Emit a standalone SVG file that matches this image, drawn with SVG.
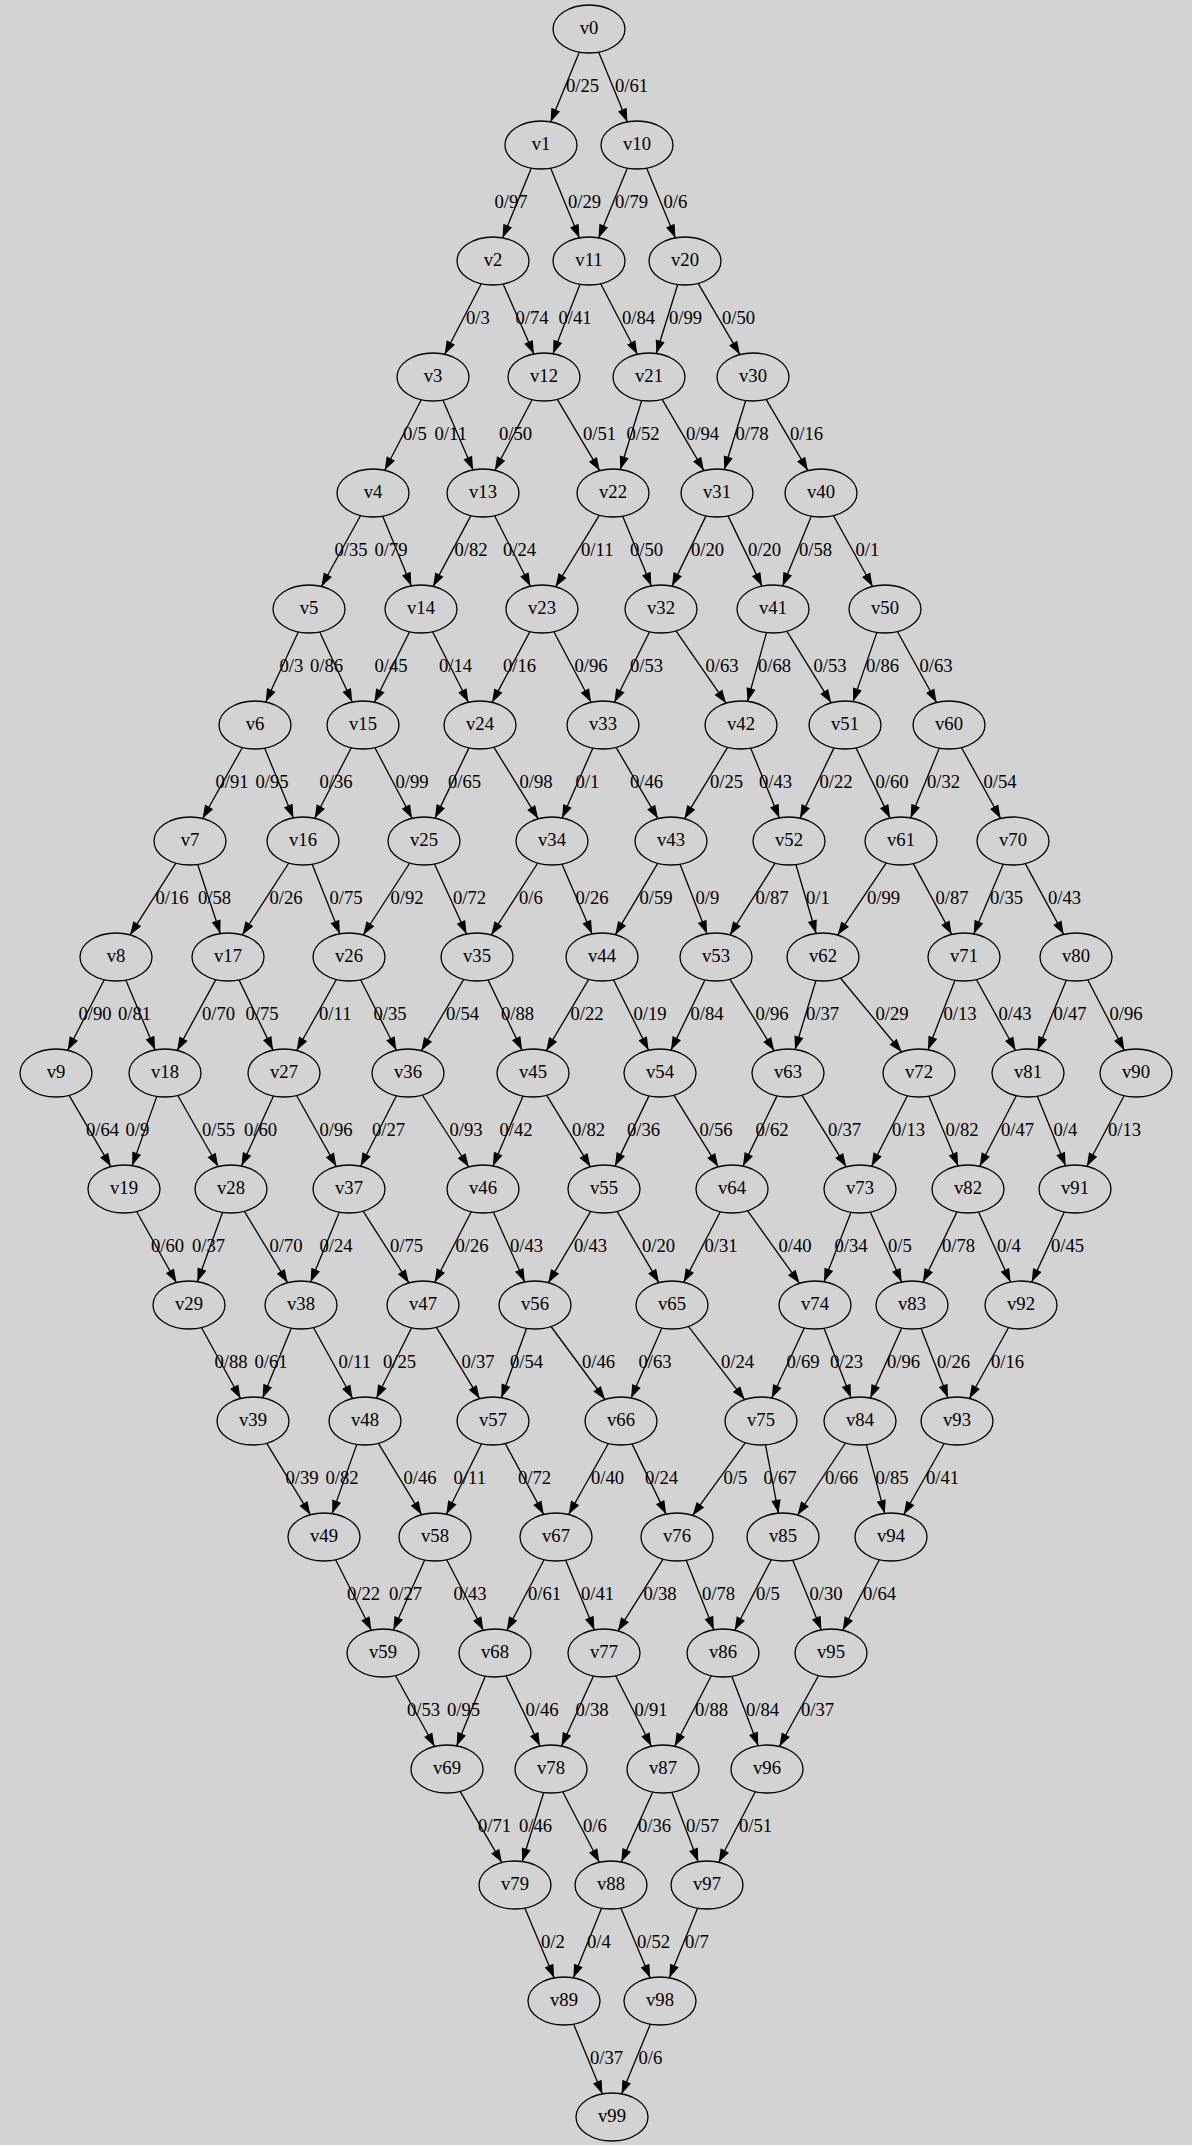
<svg xmlns="http://www.w3.org/2000/svg" width="1193" height="2147" viewBox="0 0 1193 2147">
<style>
.edge path{fill:none;stroke:#000;stroke-width:1.3;marker-end:url(#ah)}
text{font-family:"Liberation Serif","Times New Roman",serif;font-size:18.67px;fill:#000}
.node ellipse{fill:#d3d3d3;stroke:#000;stroke-width:1.3}
.node text{text-anchor:middle}
</style>
<defs>
<marker id="ah" markerUnits="userSpaceOnUse" markerWidth="14" markerHeight="10" refX="13.3" refY="4.67" orient="auto" overflow="visible"><path d="M0,0 L13.3,4.67 L0,9.33 Z" fill="#000"/></marker>
</defs>
<rect x="0" y="0" width="1193" height="2147" fill="#fff"/>
<rect x="0" y="0" width="1192" height="2145" fill="#d3d3d3"/>
<g id="edges">
<g class="edge"><path d="M579.4,52.1L550.6,121.9"/><text x="566" y="92">0/25</text></g>
<g class="edge"><path d="M598.6,52.1L627.4,121.9"/><text x="615" y="92">0/61</text></g>
<g class="edge"><path d="M531.4,168.1L502.6,237.9"/><text x="494.5" y="208">0/97</text></g>
<g class="edge"><path d="M550.6,168.1L579.4,237.9"/><text x="568" y="208">0/29</text></g>
<g class="edge"><path d="M627.4,168.1L598.6,237.9"/><text x="615" y="208">0/79</text></g>
<g class="edge"><path d="M646.6,168.1L675.4,237.9"/><text x="663.5" y="208">0/6</text></g>
<g class="edge"><path d="M481.3,283.7L444.7,354.3"/><text x="466" y="324">0/3</text></g>
<g class="edge"><path d="M503.1,284L533.9,354"/><text x="515.5" y="324">0/74</text></g>
<g class="edge"><path d="M580,284.2L553,353.8"/><text x="558.5" y="324">0/41</text></g>
<g class="edge"><path d="M600.7,283.7L637.3,354.3"/><text x="622" y="324">0/84</text></g>
<g class="edge"><path d="M677.7,284.5L656.3,353.5"/><text x="669" y="324">0/99</text></g>
<g class="edge"><path d="M698.1,283.4L739.9,354.6"/><text x="722" y="324">0/50</text></g>
<g class="edge"><path d="M421.3,399.7L384.7,470.3"/><text x="403" y="440">0/5</text></g>
<g class="edge"><path d="M442.9,400.1L473.1,469.9"/><text x="434.5" y="440">0/11</text></g>
<g class="edge"><path d="M532.1,399.7L494.9,470.3"/><text x="499" y="440">0/50</text></g>
<g class="edge"><path d="M557.3,399.3L599.7,470.7"/><text x="583" y="440">0/51</text></g>
<g class="edge"><path d="M641.7,400.5L620.3,469.5"/><text x="626.5" y="440">0/52</text></g>
<g class="edge"><path d="M662.1,399.4L703.9,470.6"/><text x="686" y="440">0/94</text></g>
<g class="edge"><path d="M745.7,400.5L724.3,469.5"/><text x="735.5" y="440">0/78</text></g>
<g class="edge"><path d="M766.1,399.4L807.9,470.6"/><text x="790" y="440">0/16</text></g>
<g class="edge"><path d="M360.6,515.5L321.4,586.5"/><text x="334.5" y="556">0/35</text></g>
<g class="edge"><path d="M382.6,516.1L411.4,585.9"/><text x="374.5" y="556">0/79</text></g>
<g class="edge"><path d="M470.9,515.6L433.1,586.4"/><text x="454.5" y="556">0/82</text></g>
<g class="edge"><path d="M494.6,515.7L530.4,586.3"/><text x="503" y="556">0/24</text></g>
<g class="edge"><path d="M599.4,515.2L555.6,586.8"/><text x="581" y="556">0/11</text></g>
<g class="edge"><path d="M622.6,516.1L651.4,585.9"/><text x="630" y="556">0/50</text></g>
<g class="edge"><path d="M706,515.9L672,586.1"/><text x="691" y="556">0/20</text></g>
<g class="edge"><path d="M728,515.9L762,586.1"/><text x="748" y="556">0/20</text></g>
<g class="edge"><path d="M811.4,516.1L782.6,585.9"/><text x="799" y="556">0/58</text></g>
<g class="edge"><path d="M833.4,515.5L872.6,586.5"/><text x="855.5" y="556">0/1</text></g>
<g class="edge"><path d="M298.3,631.9L265.7,702.1"/><text x="279.5" y="672">0/3</text></g>
<g class="edge"><path d="M319.7,631.9L352.3,702.1"/><text x="310" y="672">0/86</text></g>
<g class="edge"><path d="M409.6,631.8L374.4,702.2"/><text x="374.5" y="672">0/45</text></g>
<g class="edge"><path d="M432.6,631.7L468.4,702.3"/><text x="439" y="672">0/14</text></g>
<g class="edge"><path d="M529.9,631.6L492.1,702.4"/><text x="503" y="672">0/16</text></g>
<g class="edge"><path d="M553.9,631.7L591.1,702.3"/><text x="574.5" y="672">0/96</text></g>
<g class="edge"><path d="M649.6,631.8L614.4,702.2"/><text x="630" y="672">0/53</text></g>
<g class="edge"><path d="M676,630.8L726,703.2"/><text x="705.5" y="672">0/63</text></g>
<g class="edge"><path d="M766.5,632.6L747.5,701.4"/><text x="758" y="672">0/68</text></g>
<g class="edge"><path d="M786.8,631.2L831.2,702.8"/><text x="813.5" y="672">0/53</text></g>
<g class="edge"><path d="M876.9,632.4L853.1,701.6"/><text x="866" y="672">0/86</text></g>
<g class="edge"><path d="M897.4,631.5L936.6,702.5"/><text x="919.5" y="672">0/63</text></g>
<g class="edge"><path d="M242.4,747.5L202.6,818.5"/><text x="215.5" y="788">0/91</text></g>
<g class="edge"><path d="M264.6,748.1L293.4,817.9"/><text x="255.5" y="788">0/95</text></g>
<g class="edge"><path d="M351.3,747.7L314.7,818.3"/><text x="319.5" y="788">0/36</text></g>
<g class="edge"><path d="M374.9,747.7L412.1,818.3"/><text x="395.5" y="788">0/99</text></g>
<g class="edge"><path d="M469,747.9L435,818.1"/><text x="448" y="788">0/65</text></g>
<g class="edge"><path d="M493.8,747.2L538.2,818.8"/><text x="519.5" y="788">0/98</text></g>
<g class="edge"><path d="M592.9,748L562.1,818"/><text x="575.5" y="788">0/1</text></g>
<g class="edge"><path d="M616.1,747.4L657.9,818.6"/><text x="630" y="788">0/46</text></g>
<g class="edge"><path d="M727.6,747.3L684.4,818.7"/><text x="710" y="788">0/25</text></g>
<g class="edge"><path d="M750.6,748.1L779.4,817.9"/><text x="759" y="788">0/43</text></g>
<g class="edge"><path d="M834,747.9L800,818.1"/><text x="819.5" y="788">0/22</text></g>
<g class="edge"><path d="M856,747.9L890,818.1"/><text x="875.5" y="788">0/60</text></g>
<g class="edge"><path d="M939.4,748.1L910.6,817.9"/><text x="927" y="788">0/32</text></g>
<g class="edge"><path d="M961.4,747.5L1000.6,818.5"/><text x="983.5" y="788">0/54</text></g>
<g class="edge"><path d="M175.9,863.1L130.1,934.9"/><text x="155.5" y="904">0/16</text></g>
<g class="edge"><path d="M197.7,864.5L220.3,933.5"/><text x="198" y="904">0/58</text></g>
<g class="edge"><path d="M288.8,863L242.2,935"/><text x="269.5" y="904">0/26</text></g>
<g class="edge"><path d="M312.2,864.2L339.8,933.8"/><text x="329.5" y="904">0/75</text></g>
<g class="edge"><path d="M409.8,863L363.2,935"/><text x="390.5" y="904">0/92</text></g>
<g class="edge"><path d="M434.5,864L466.5,934"/><text x="453" y="904">0/72</text></g>
<g class="edge"><path d="M537.8,863L491.2,935"/><text x="519" y="904">0/6</text></g>
<g class="edge"><path d="M561.9,864.1L592.1,933.9"/><text x="575.5" y="904">0/26</text></g>
<g class="edge"><path d="M657.7,863.3L615.3,934.7"/><text x="639.5" y="904">0/59</text></g>
<g class="edge"><path d="M680,864.2L707,933.8"/><text x="695.5" y="904">0/9</text></g>
<g class="edge"><path d="M775.1,863.1L729.9,934.9"/><text x="755.5" y="904">0/87</text></g>
<g class="edge"><path d="M795.9,864.5L816.1,933.5"/><text x="806" y="904">0/1</text></g>
<g class="edge"><path d="M886.3,862.9L837.7,935.1"/><text x="867" y="904">0/99</text></g>
<g class="edge"><path d="M913.3,863.6L951.7,934.4"/><text x="935.5" y="904">0/87</text></g>
<g class="edge"><path d="M1003.3,864.1L973.7,933.9"/><text x="990" y="904">0/35</text></g>
<g class="edge"><path d="M1025.3,863.6L1063.7,934.4"/><text x="1048" y="904">0/43</text></g>
<g class="edge"><path d="M104.3,979.7L67.7,1050.3"/><text x="78.5" y="1020">0/90</text></g>
<g class="edge"><path d="M125.8,980.1L155.2,1049.9"/><text x="118" y="1020">0/81</text></g>
<g class="edge"><path d="M215.8,979.6L177.2,1050.4"/><text x="202" y="1020">0/70</text></g>
<g class="edge"><path d="M239,979.9L273,1050.1"/><text x="245.5" y="1020">0/75</text></g>
<g class="edge"><path d="M336.4,979.5L296.6,1050.5"/><text x="319" y="1020">0/11</text></g>
<g class="edge"><path d="M360.6,979.7L396.4,1050.3"/><text x="373.5" y="1020">0/35</text></g>
<g class="edge"><path d="M463.7,979.3L421.3,1050.7"/><text x="446" y="1020">0/54</text></g>
<g class="edge"><path d="M488,979.9L522,1050.1"/><text x="501" y="1020">0/88</text></g>
<g class="edge"><path d="M588.7,979.3L546.3,1050.7"/><text x="570.5" y="1020">0/22</text></g>
<g class="edge"><path d="M613.4,979.8L648.6,1050.2"/><text x="633.5" y="1020">0/19</text></g>
<g class="edge"><path d="M705,979.9L671,1050.1"/><text x="690.5" y="1020">0/84</text></g>
<g class="edge"><path d="M729.8,979.2L774.2,1050.8"/><text x="755.5" y="1020">0/96</text></g>
<g class="edge"><path d="M815.9,980.5L795.1,1049.5"/><text x="806" y="1020">0/37</text></g>
<g class="edge"><path d="M840.4,978L901.6,1052"/><text x="875.5" y="1020">0/29</text></g>
<g class="edge"><path d="M955,980.2L928,1049.8"/><text x="943.5" y="1020">0/13</text></g>
<g class="edge"><path d="M976.4,979.5L1015.6,1050.5"/><text x="998.5" y="1020">0/43</text></g>
<g class="edge"><path d="M1066.4,980.1L1037.6,1049.9"/><text x="1053.5" y="1020">0/47</text></g>
<g class="edge"><path d="M1087.7,979.7L1124.3,1050.3"/><text x="1109.5" y="1020">0/96</text></g>
<g class="edge"><path d="M69.1,1095.4L110.9,1166.6"/><text x="86" y="1136">0/64</text></g>
<g class="edge"><path d="M156.8,1096.4L132.2,1165.6"/><text x="125.5" y="1136">0/9</text></g>
<g class="edge"><path d="M177.8,1095.5L218.2,1166.5"/><text x="202" y="1136">0/55</text></g>
<g class="edge"><path d="M273.5,1096L241.5,1166"/><text x="244" y="1136">0/60</text></g>
<g class="edge"><path d="M296.6,1095.5L336.4,1166.5"/><text x="319.5" y="1136">0/96</text></g>
<g class="edge"><path d="M396.4,1095.7L360.6,1166.3"/><text x="372" y="1136">0/27</text></g>
<g class="edge"><path d="M422.2,1095L468.8,1167"/><text x="449.5" y="1136">0/93</text></g>
<g class="edge"><path d="M523.1,1096.1L492.9,1165.9"/><text x="499.5" y="1136">0/42</text></g>
<g class="edge"><path d="M546.6,1095.2L590.4,1166.8"/><text x="572" y="1136">0/82</text></g>
<g class="edge"><path d="M649,1095.9L615,1166.1"/><text x="627" y="1136">0/36</text></g>
<g class="edge"><path d="M673.8,1095.2L718.2,1166.8"/><text x="699.5" y="1136">0/56</text></g>
<g class="edge"><path d="M777,1095.9L743,1166.1"/><text x="755.5" y="1136">0/62</text></g>
<g class="edge"><path d="M801.8,1095.2L846.2,1166.8"/><text x="828" y="1136">0/37</text></g>
<g class="edge"><path d="M907.4,1095.7L871.6,1166.3"/><text x="892" y="1136">0/13</text></g>
<g class="edge"><path d="M928.8,1096.1L958.2,1165.9"/><text x="945.5" y="1136">0/82</text></g>
<g class="edge"><path d="M1016.3,1095.7L979.7,1166.3"/><text x="1001" y="1136">0/47</text></g>
<g class="edge"><path d="M1037.4,1096.2L1065.6,1165.8"/><text x="1053.5" y="1136">0/4</text></g>
<g class="edge"><path d="M1124.1,1095.7L1086.9,1166.3"/><text x="1108" y="1136">0/13</text></g>
<g class="edge"><path d="M136.6,1211.5L176.4,1282.5"/><text x="151" y="1252">0/60</text></g>
<g class="edge"><path d="M222.6,1212.3L197.4,1281.7"/><text x="192" y="1252">0/37</text></g>
<g class="edge"><path d="M244.4,1211.3L287.6,1282.7"/><text x="269.5" y="1252">0/70</text></g>
<g class="edge"><path d="M339.4,1212.1L310.6,1281.9"/><text x="319.5" y="1252">0/24</text></g>
<g class="edge"><path d="M363.1,1211.1L408.9,1282.9"/><text x="390" y="1252">0/75</text></g>
<g class="edge"><path d="M471.3,1211.7L434.7,1282.3"/><text x="455.5" y="1252">0/26</text></g>
<g class="edge"><path d="M493.3,1212L524.7,1282"/><text x="510" y="1252">0/43</text></g>
<g class="edge"><path d="M590.7,1211.3L548.3,1282.7"/><text x="574" y="1252">0/43</text></g>
<g class="edge"><path d="M617.1,1211.4L658.9,1282.6"/><text x="642" y="1252">0/20</text></g>
<g class="edge"><path d="M720.3,1211.7L683.7,1282.3"/><text x="704.5" y="1252">0/31</text></g>
<g class="edge"><path d="M747.5,1210.7L799.5,1283.3"/><text x="778.5" y="1252">0/40</text></g>
<g class="edge"><path d="M851,1212.2L824,1281.8"/><text x="834.5" y="1252">0/34</text></g>
<g class="edge"><path d="M870.3,1212L901.7,1282"/><text x="888" y="1252">0/5</text></g>
<g class="edge"><path d="M957,1211.9L923,1282.1"/><text x="942" y="1252">0/78</text></g>
<g class="edge"><path d="M978.5,1212L1010.5,1282"/><text x="997" y="1252">0/4</text></g>
<g class="edge"><path d="M1064.3,1211.9L1031.7,1282.1"/><text x="1051" y="1252">0/45</text></g>
<g class="edge"><path d="M201.4,1327.5L240.6,1398.5"/><text x="214.5" y="1368">0/88</text></g>
<g class="edge"><path d="M291.4,1328.1L262.6,1397.9"/><text x="254.5" y="1368">0/61</text></g>
<g class="edge"><path d="M313.4,1327.5L352.6,1398.5"/><text x="338.5" y="1368">0/11</text></g>
<g class="edge"><path d="M411.6,1327.8L376.4,1398.2"/><text x="383" y="1368">0/25</text></g>
<g class="edge"><path d="M436.4,1327.3L479.6,1398.7"/><text x="461.5" y="1368">0/37</text></g>
<g class="edge"><path d="M526.6,1328.3L501.4,1397.7"/><text x="510" y="1368">0/54</text></g>
<g class="edge"><path d="M551,1326.5L605,1399.5"/><text x="582" y="1368">0/46</text></g>
<g class="edge"><path d="M661.9,1328L631.1,1398"/><text x="638.5" y="1368">0/63</text></g>
<g class="edge"><path d="M688.4,1326.4L744.6,1399.6"/><text x="721" y="1368">0/24</text></g>
<g class="edge"><path d="M804.3,1327.9L771.7,1398.1"/><text x="786.5" y="1368">0/69</text></g>
<g class="edge"><path d="M824,1328.2L851,1397.8"/><text x="830" y="1368">0/23</text></g>
<g class="edge"><path d="M901.7,1328L870.3,1398"/><text x="887" y="1368">0/96</text></g>
<g class="edge"><path d="M921,1328.2L948,1397.8"/><text x="937" y="1368">0/26</text></g>
<g class="edge"><path d="M1008.6,1327.5L969.4,1398.5"/><text x="991" y="1368">0/16</text></g>
<g class="edge"><path d="M266.6,1443.2L310.4,1514.8"/><text x="285.5" y="1484">0/39</text></g>
<g class="edge"><path d="M356.8,1444.4L332.2,1513.6"/><text x="325.5" y="1484">0/82</text></g>
<g class="edge"><path d="M378.4,1443.3L421.6,1514.7"/><text x="403.5" y="1484">0/46</text></g>
<g class="edge"><path d="M481.6,1443.8L446.4,1514.2"/><text x="453.5" y="1484">0/11</text></g>
<g class="edge"><path d="M505.3,1443.6L543.7,1514.4"/><text x="518" y="1484">0/72</text></g>
<g class="edge"><path d="M608.4,1443.5L568.6,1514.5"/><text x="591" y="1484">0/40</text></g>
<g class="edge"><path d="M632,1443.9L666,1514.1"/><text x="645" y="1484">0/24</text></g>
<g class="edge"><path d="M745.4,1442.6L692.6,1515.4"/><text x="723.5" y="1484">0/5</text></g>
<g class="edge"><path d="M765.5,1444.8L778.5,1513.2"/><text x="763.5" y="1484">0/67</text></g>
<g class="edge"><path d="M845.4,1443L797.6,1515"/><text x="825" y="1484">0/66</text></g>
<g class="edge"><path d="M866.3,1444.6L884.7,1513.4"/><text x="875.5" y="1484">0/85</text></g>
<g class="edge"><path d="M944.2,1443.5L903.8,1514.5"/><text x="926" y="1484">0/41</text></g>
<g class="edge"><path d="M335.6,1559.7L371.4,1630.3"/><text x="347" y="1600">0/22</text></g>
<g class="edge"><path d="M424.7,1560L393.3,1630"/><text x="389" y="1600">0/27</text></g>
<g class="edge"><path d="M446.7,1559.7L483.3,1630.3"/><text x="453.5" y="1600">0/43</text></g>
<g class="edge"><path d="M544.1,1559.7L506.9,1630.3"/><text x="528" y="1600">0/61</text></g>
<g class="edge"><path d="M565.6,1560.1L594.4,1629.9"/><text x="581" y="1600">0/41</text></g>
<g class="edge"><path d="M663.1,1559.1L617.9,1630.9"/><text x="643.5" y="1600">0/38</text></g>
<g class="edge"><path d="M686.2,1560.2L713.8,1629.8"/><text x="702" y="1600">0/78</text></g>
<g class="edge"><path d="M771.3,1559.7L734.7,1630.3"/><text x="756" y="1600">0/5</text></g>
<g class="edge"><path d="M792.6,1560.1L821.4,1629.9"/><text x="809.5" y="1600">0/30</text></g>
<g class="edge"><path d="M879.3,1559.7L842.7,1630.3"/><text x="863" y="1600">0/64</text></g>
<g class="edge"><path d="M395.4,1675.5L434.6,1746.5"/><text x="407" y="1716">0/53</text></g>
<g class="edge"><path d="M485.4,1676.1L456.6,1745.9"/><text x="447" y="1716">0/95</text></g>
<g class="edge"><path d="M506,1675.9L540,1746.1"/><text x="525.5" y="1716">0/46</text></g>
<g class="edge"><path d="M593.5,1676L561.5,1746"/><text x="575.5" y="1716">0/38</text></g>
<g class="edge"><path d="M615.6,1675.7L651.4,1746.3"/><text x="634.5" y="1716">0/91</text></g>
<g class="edge"><path d="M711.3,1675.7L674.7,1746.3"/><text x="695" y="1716">0/88</text></g>
<g class="edge"><path d="M731.8,1676.3L758.2,1745.7"/><text x="746" y="1716">0/84</text></g>
<g class="edge"><path d="M818.6,1675.5L779.4,1746.5"/><text x="801" y="1716">0/37</text></g>
<g class="edge"><path d="M460.1,1791.4L501.9,1862.6"/><text x="478" y="1832">0/71</text></g>
<g class="edge"><path d="M543.7,1792.5L522.3,1861.5"/><text x="519" y="1832">0/46</text></g>
<g class="edge"><path d="M562.7,1791.7L599.3,1862.3"/><text x="583" y="1832">0/6</text></g>
<g class="edge"><path d="M652.7,1792L621.3,1862"/><text x="638" y="1832">0/36</text></g>
<g class="edge"><path d="M671.8,1792.3L698.2,1861.7"/><text x="686" y="1832">0/57</text></g>
<g class="edge"><path d="M755.3,1791.7L718.7,1862.3"/><text x="739" y="1832">0/51</text></g>
<g class="edge"><path d="M524.8,1908.1L554.2,1977.9"/><text x="541" y="1948">0/2</text></g>
<g class="edge"><path d="M601.6,1908.2L573.4,1977.8"/><text x="587" y="1948">0/4</text></g>
<g class="edge"><path d="M620.8,1908.1L650.2,1977.9"/><text x="637" y="1948">0/52</text></g>
<g class="edge"><path d="M697.6,1908.2L669.4,1977.8"/><text x="685" y="1948">0/7</text></g>
<g class="edge"><path d="M573.6,2024.1L602.4,2093.9"/><text x="590" y="2064">0/37</text></g>
<g class="edge"><path d="M650.4,2024.1L621.6,2093.9"/><text x="638.5" y="2064">0/6</text></g>
</g>
<g id="nodes">
<g class="node" id="v0"><ellipse cx="589" cy="29" rx="36" ry="24"/><text x="589" y="34">v0</text></g>
<g class="node" id="v1"><ellipse cx="541" cy="145" rx="36" ry="24"/><text x="541" y="150">v1</text></g>
<g class="node" id="v10"><ellipse cx="637" cy="145" rx="36" ry="24"/><text x="637" y="150">v10</text></g>
<g class="node" id="v2"><ellipse cx="493" cy="261" rx="36" ry="24"/><text x="493" y="266">v2</text></g>
<g class="node" id="v11"><ellipse cx="589" cy="261" rx="36" ry="24"/><text x="589" y="266">v11</text></g>
<g class="node" id="v20"><ellipse cx="685" cy="261" rx="36" ry="24"/><text x="685" y="266">v20</text></g>
<g class="node" id="v3"><ellipse cx="433" cy="377" rx="36" ry="24"/><text x="433" y="382">v3</text></g>
<g class="node" id="v12"><ellipse cx="544" cy="377" rx="36" ry="24"/><text x="544" y="382">v12</text></g>
<g class="node" id="v21"><ellipse cx="649" cy="377" rx="36" ry="24"/><text x="649" y="382">v21</text></g>
<g class="node" id="v30"><ellipse cx="753" cy="377" rx="36" ry="24"/><text x="753" y="382">v30</text></g>
<g class="node" id="v4"><ellipse cx="373" cy="493" rx="36" ry="24"/><text x="373" y="498">v4</text></g>
<g class="node" id="v13"><ellipse cx="483" cy="493" rx="36" ry="24"/><text x="483" y="498">v13</text></g>
<g class="node" id="v22"><ellipse cx="613" cy="493" rx="36" ry="24"/><text x="613" y="498">v22</text></g>
<g class="node" id="v31"><ellipse cx="717" cy="493" rx="36" ry="24"/><text x="717" y="498">v31</text></g>
<g class="node" id="v40"><ellipse cx="821" cy="493" rx="36" ry="24"/><text x="821" y="498">v40</text></g>
<g class="node" id="v5"><ellipse cx="309" cy="609" rx="36" ry="24"/><text x="309" y="614">v5</text></g>
<g class="node" id="v14"><ellipse cx="421" cy="609" rx="36" ry="24"/><text x="421" y="614">v14</text></g>
<g class="node" id="v23"><ellipse cx="542" cy="609" rx="36" ry="24"/><text x="542" y="614">v23</text></g>
<g class="node" id="v32"><ellipse cx="661" cy="609" rx="36" ry="24"/><text x="661" y="614">v32</text></g>
<g class="node" id="v41"><ellipse cx="773" cy="609" rx="36" ry="24"/><text x="773" y="614">v41</text></g>
<g class="node" id="v50"><ellipse cx="885" cy="609" rx="36" ry="24"/><text x="885" y="614">v50</text></g>
<g class="node" id="v6"><ellipse cx="255" cy="725" rx="36" ry="24"/><text x="255" y="730">v6</text></g>
<g class="node" id="v15"><ellipse cx="363" cy="725" rx="36" ry="24"/><text x="363" y="730">v15</text></g>
<g class="node" id="v24"><ellipse cx="480" cy="725" rx="36" ry="24"/><text x="480" y="730">v24</text></g>
<g class="node" id="v33"><ellipse cx="603" cy="725" rx="36" ry="24"/><text x="603" y="730">v33</text></g>
<g class="node" id="v42"><ellipse cx="741" cy="725" rx="36" ry="24"/><text x="741" y="730">v42</text></g>
<g class="node" id="v51"><ellipse cx="845" cy="725" rx="36" ry="24"/><text x="845" y="730">v51</text></g>
<g class="node" id="v60"><ellipse cx="949" cy="725" rx="36" ry="24"/><text x="949" y="730">v60</text></g>
<g class="node" id="v7"><ellipse cx="190" cy="841" rx="36" ry="24"/><text x="190" y="846">v7</text></g>
<g class="node" id="v16"><ellipse cx="303" cy="841" rx="36" ry="24"/><text x="303" y="846">v16</text></g>
<g class="node" id="v25"><ellipse cx="424" cy="841" rx="36" ry="24"/><text x="424" y="846">v25</text></g>
<g class="node" id="v34"><ellipse cx="552" cy="841" rx="36" ry="24"/><text x="552" y="846">v34</text></g>
<g class="node" id="v43"><ellipse cx="671" cy="841" rx="36" ry="24"/><text x="671" y="846">v43</text></g>
<g class="node" id="v52"><ellipse cx="789" cy="841" rx="36" ry="24"/><text x="789" y="846">v52</text></g>
<g class="node" id="v61"><ellipse cx="901" cy="841" rx="36" ry="24"/><text x="901" y="846">v61</text></g>
<g class="node" id="v70"><ellipse cx="1013" cy="841" rx="36" ry="24"/><text x="1013" y="846">v70</text></g>
<g class="node" id="v8"><ellipse cx="116" cy="957" rx="36" ry="24"/><text x="116" y="962">v8</text></g>
<g class="node" id="v17"><ellipse cx="228" cy="957" rx="36" ry="24"/><text x="228" y="962">v17</text></g>
<g class="node" id="v26"><ellipse cx="349" cy="957" rx="36" ry="24"/><text x="349" y="962">v26</text></g>
<g class="node" id="v35"><ellipse cx="477" cy="957" rx="36" ry="24"/><text x="477" y="962">v35</text></g>
<g class="node" id="v44"><ellipse cx="602" cy="957" rx="36" ry="24"/><text x="602" y="962">v44</text></g>
<g class="node" id="v53"><ellipse cx="716" cy="957" rx="36" ry="24"/><text x="716" y="962">v53</text></g>
<g class="node" id="v62"><ellipse cx="823" cy="957" rx="36" ry="24"/><text x="823" y="962">v62</text></g>
<g class="node" id="v71"><ellipse cx="964" cy="957" rx="36" ry="24"/><text x="964" y="962">v71</text></g>
<g class="node" id="v80"><ellipse cx="1076" cy="957" rx="36" ry="24"/><text x="1076" y="962">v80</text></g>
<g class="node" id="v9"><ellipse cx="56" cy="1073" rx="36" ry="24"/><text x="56" y="1078">v9</text></g>
<g class="node" id="v18"><ellipse cx="165" cy="1073" rx="36" ry="24"/><text x="165" y="1078">v18</text></g>
<g class="node" id="v27"><ellipse cx="284" cy="1073" rx="36" ry="24"/><text x="284" y="1078">v27</text></g>
<g class="node" id="v36"><ellipse cx="408" cy="1073" rx="36" ry="24"/><text x="408" y="1078">v36</text></g>
<g class="node" id="v45"><ellipse cx="533" cy="1073" rx="36" ry="24"/><text x="533" y="1078">v45</text></g>
<g class="node" id="v54"><ellipse cx="660" cy="1073" rx="36" ry="24"/><text x="660" y="1078">v54</text></g>
<g class="node" id="v63"><ellipse cx="788" cy="1073" rx="36" ry="24"/><text x="788" y="1078">v63</text></g>
<g class="node" id="v72"><ellipse cx="919" cy="1073" rx="36" ry="24"/><text x="919" y="1078">v72</text></g>
<g class="node" id="v81"><ellipse cx="1028" cy="1073" rx="36" ry="24"/><text x="1028" y="1078">v81</text></g>
<g class="node" id="v90"><ellipse cx="1136" cy="1073" rx="36" ry="24"/><text x="1136" y="1078">v90</text></g>
<g class="node" id="v19"><ellipse cx="124" cy="1189" rx="36" ry="24"/><text x="124" y="1194">v19</text></g>
<g class="node" id="v28"><ellipse cx="231" cy="1189" rx="36" ry="24"/><text x="231" y="1194">v28</text></g>
<g class="node" id="v37"><ellipse cx="349" cy="1189" rx="36" ry="24"/><text x="349" y="1194">v37</text></g>
<g class="node" id="v46"><ellipse cx="483" cy="1189" rx="36" ry="24"/><text x="483" y="1194">v46</text></g>
<g class="node" id="v55"><ellipse cx="604" cy="1189" rx="36" ry="24"/><text x="604" y="1194">v55</text></g>
<g class="node" id="v64"><ellipse cx="732" cy="1189" rx="36" ry="24"/><text x="732" y="1194">v64</text></g>
<g class="node" id="v73"><ellipse cx="860" cy="1189" rx="36" ry="24"/><text x="860" y="1194">v73</text></g>
<g class="node" id="v82"><ellipse cx="968" cy="1189" rx="36" ry="24"/><text x="968" y="1194">v82</text></g>
<g class="node" id="v91"><ellipse cx="1075" cy="1189" rx="36" ry="24"/><text x="1075" y="1194">v91</text></g>
<g class="node" id="v29"><ellipse cx="189" cy="1305" rx="36" ry="24"/><text x="189" y="1310">v29</text></g>
<g class="node" id="v38"><ellipse cx="301" cy="1305" rx="36" ry="24"/><text x="301" y="1310">v38</text></g>
<g class="node" id="v47"><ellipse cx="423" cy="1305" rx="36" ry="24"/><text x="423" y="1310">v47</text></g>
<g class="node" id="v56"><ellipse cx="535" cy="1305" rx="36" ry="24"/><text x="535" y="1310">v56</text></g>
<g class="node" id="v65"><ellipse cx="672" cy="1305" rx="36" ry="24"/><text x="672" y="1310">v65</text></g>
<g class="node" id="v74"><ellipse cx="815" cy="1305" rx="36" ry="24"/><text x="815" y="1310">v74</text></g>
<g class="node" id="v83"><ellipse cx="912" cy="1305" rx="36" ry="24"/><text x="912" y="1310">v83</text></g>
<g class="node" id="v92"><ellipse cx="1021" cy="1305" rx="36" ry="24"/><text x="1021" y="1310">v92</text></g>
<g class="node" id="v39"><ellipse cx="253" cy="1421" rx="36" ry="24"/><text x="253" y="1426">v39</text></g>
<g class="node" id="v48"><ellipse cx="365" cy="1421" rx="36" ry="24"/><text x="365" y="1426">v48</text></g>
<g class="node" id="v57"><ellipse cx="493" cy="1421" rx="36" ry="24"/><text x="493" y="1426">v57</text></g>
<g class="node" id="v66"><ellipse cx="621" cy="1421" rx="36" ry="24"/><text x="621" y="1426">v66</text></g>
<g class="node" id="v75"><ellipse cx="761" cy="1421" rx="36" ry="24"/><text x="761" y="1426">v75</text></g>
<g class="node" id="v84"><ellipse cx="860" cy="1421" rx="36" ry="24"/><text x="860" y="1426">v84</text></g>
<g class="node" id="v93"><ellipse cx="957" cy="1421" rx="36" ry="24"/><text x="957" y="1426">v93</text></g>
<g class="node" id="v49"><ellipse cx="324" cy="1537" rx="36" ry="24"/><text x="324" y="1542">v49</text></g>
<g class="node" id="v58"><ellipse cx="435" cy="1537" rx="36" ry="24"/><text x="435" y="1542">v58</text></g>
<g class="node" id="v67"><ellipse cx="556" cy="1537" rx="36" ry="24"/><text x="556" y="1542">v67</text></g>
<g class="node" id="v76"><ellipse cx="677" cy="1537" rx="36" ry="24"/><text x="677" y="1542">v76</text></g>
<g class="node" id="v85"><ellipse cx="783" cy="1537" rx="36" ry="24"/><text x="783" y="1542">v85</text></g>
<g class="node" id="v94"><ellipse cx="891" cy="1537" rx="36" ry="24"/><text x="891" y="1542">v94</text></g>
<g class="node" id="v59"><ellipse cx="383" cy="1653" rx="36" ry="24"/><text x="383" y="1658">v59</text></g>
<g class="node" id="v68"><ellipse cx="495" cy="1653" rx="36" ry="24"/><text x="495" y="1658">v68</text></g>
<g class="node" id="v77"><ellipse cx="604" cy="1653" rx="36" ry="24"/><text x="604" y="1658">v77</text></g>
<g class="node" id="v86"><ellipse cx="723" cy="1653" rx="36" ry="24"/><text x="723" y="1658">v86</text></g>
<g class="node" id="v95"><ellipse cx="831" cy="1653" rx="36" ry="24"/><text x="831" y="1658">v95</text></g>
<g class="node" id="v69"><ellipse cx="447" cy="1769" rx="36" ry="24"/><text x="447" y="1774">v69</text></g>
<g class="node" id="v78"><ellipse cx="551" cy="1769" rx="36" ry="24"/><text x="551" y="1774">v78</text></g>
<g class="node" id="v87"><ellipse cx="663" cy="1769" rx="36" ry="24"/><text x="663" y="1774">v87</text></g>
<g class="node" id="v96"><ellipse cx="767" cy="1769" rx="36" ry="24"/><text x="767" y="1774">v96</text></g>
<g class="node" id="v79"><ellipse cx="515" cy="1885" rx="36" ry="24"/><text x="515" y="1890">v79</text></g>
<g class="node" id="v88"><ellipse cx="611" cy="1885" rx="36" ry="24"/><text x="611" y="1890">v88</text></g>
<g class="node" id="v97"><ellipse cx="707" cy="1885" rx="36" ry="24"/><text x="707" y="1890">v97</text></g>
<g class="node" id="v89"><ellipse cx="564" cy="2001" rx="36" ry="24"/><text x="564" y="2006">v89</text></g>
<g class="node" id="v98"><ellipse cx="660" cy="2001" rx="36" ry="24"/><text x="660" y="2006">v98</text></g>
<g class="node" id="v99"><ellipse cx="612" cy="2117" rx="36" ry="24"/><text x="612" y="2122">v99</text></g>
</g>
</svg>
